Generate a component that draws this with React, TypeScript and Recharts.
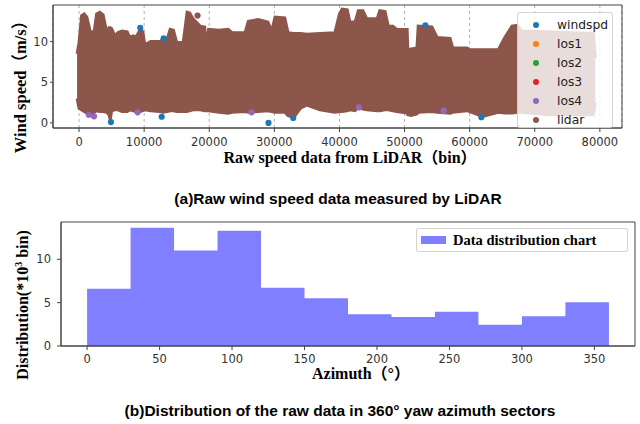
import React from "react";
import {
  ComposedChart,
  Area,
  Scatter,
  XAxis,
  YAxis,
  ZAxis,
  CartesianGrid,
  ReferenceArea,
} from "recharts";

// (a) raw wind speed cloud: envelope
const binPositions = [
  -300, 0, 400, 800, 1200, 1700, 2300, 2700, 3200, 3700, 4250, 4600, 4800, 5000, 5500, 6000, 6600,
  7400, 7800, 8300, 8800, 9400, 9800, 10100, 11000, 12400, 12900, 13500, 14000, 14500, 15000, 16000,
  16600, 17000, 17500, 18600, 19300, 19600, 19900, 21500, 22900, 23500, 25500, 26000, 27500, 29000,
  29600, 30100, 31600, 32100, 33000, 34000, 35000, 37000, 39300, 40000, 40400, 41200, 41600, 42400,
  42900, 43600, 44200, 45800, 46200, 47000, 47500, 48200, 48800, 50400, 50500, 51000, 51900, 52100,
  54200, 55000, 57000, 57400, 59600, 60000, 62000, 64400, 65400, 66500, 67300, 68000, 72000, 76000,
  79000, 79300,
];
const upperSpeed = [
  8.5, 9.9, 13.2, 13.4, 13.0, 11.3, 11.1, 13.4, 13.6, 13.3, 11.1, 11.7, 11.7, 11.6, 10.7, 11.1, 11.3,
  11.2, 10.5, 10.7, 10.6, 11.5, 11.2, 9.6, 10.0, 10.0, 10.3, 10.2, 11.5, 11.4, 9.9, 9.9,
  13.6, 13.5, 12.8, 11.9, 11.8, 9.0, 11.5, 11.4, 11.5, 11.1, 11.1, 12.5, 12.7, 12.4,
  11.3, 13.0, 12.9, 11.1, 11.0, 11.0, 10.9, 11.0, 11.1, 13.4, 14.0, 13.9, 12.4, 12.4,
  13.8, 13.8, 12.8, 12.8, 13.8, 13.7, 11.9, 11.9, 11.5, 11.5, 9.0, 9.1, 9.2, 11.9,
  11.8, 10.5, 10.4, 9.2, 9.2, 9.0, 9.0, 9.0, 10.5, 11.9, 12.0, 11.3, 11.2, 11.1,
  11.0, 8.0,
];
const lowerSpeed = [
  3.0, 1.8, 1.6, 1.4, 1.2, 1.1, 1.3, 1.5, 1.4, 1.4, 1.3, 1.0, 0.4, 1.5, 1.6, 1.6, 1.4,
  1.4, 1.6, 1.5, 1.4, 1.4, 1.5, 1.6, 1.5, 1.4, 1.3, 1.4, 1.5, 1.5, 1.4, 1.4,
  1.4, 1.5, 1.6, 1.6, 1.5, 1.5, 1.5, 1.3, 1.2, 1.3, 1.4, 1.3, 1.4, 1.5,
  1.4, 1.3, 1.3, 0.9, 0.7, 1.8, 2.2, 1.6, 1.3, 1.4, 1.4, 1.5, 1.6, 1.5,
  2.0, 1.7, 1.6, 1.5, 1.5, 1.6, 1.6, 1.5, 1.4, 1.2, 1.0, 0.9, 1.1, 1.3,
  1.4, 1.3, 1.2, 1.3, 1.5, 1.4, 0.8, 1.3, 1.2, 1.2, 1.3, 1.3, 1.0, 1.0,
  1.0, 2.5,
];
const windspdOutliers = [
  { x: 4900, v: 0.1 },
  { x: 12700, v: 0.75 },
  { x: 29100, v: 0.0 },
  { x: 32900, v: 0.6 },
  { x: 61800, v: 0.7 },
  { x: 9400, v: 11.7 },
  { x: 13000, v: 10.4 },
  { x: 53200, v: 12.0 },
];
const los4Edge = [
  { x: 1500, v: 1.0 },
  { x: 2300, v: 0.8 },
  { x: 9000, v: 1.3 },
  { x: 26500, v: 1.3 },
  { x: 43000, v: 1.9 },
  { x: 56000, v: 1.5 },
];
const lidarOutliers = [{ x: 18200, v: 13.2 }];
const speedTicks = [0, 5, 10];
const binTicks = [0, 10000, 20000, 30000, 40000, 50000, 60000, 70000, 80000];
const seriesNames = ["windspd", "los1", "los2", "los3", "los4", "lidar"];
const seriesColors = ["#1f77b4", "#ff7f0e", "#2ca02c", "#d62728", "#9467bd", "#8c564b"];

// (b) histogram of 30 degree yaw sectors
const sectorEdges = [0, 30, 60, 90, 120, 150, 180, 210, 240, 270, 300, 330];
const sectorCounts = [6.6, 13.65, 11.0, 13.3, 6.73, 5.5, 3.65, 3.35, 3.96, 2.46, 3.42, 5.04];
const azimuthTicks = [0, 50, 100, 150, 200, 250, 300, 350];
const countTicks = [0, 5, 10];

const TICK = { fill: "#333", fontSize: 11.5, fontFamily: "DejaVu Sans" };
const SERIF = "'Liberation Serif', 'Noto Sans CJK SC', serif";
const SANS = "'Liberation Sans', Arial, sans-serif";
const BROWN = "#8c564b";

const bandRows = binPositions.map((x, i) => ({ x, band: [lowerSpeed[i], upperSpeed[i]] }));
const histRows = [
  ...sectorEdges.map((x, i) => ({ x, count: sectorCounts[i] })),
  { x: 360, count: sectorCounts[sectorCounts.length - 1] },
];

const abs = (left: number, top: number): React.CSSProperties => ({ position: "absolute", left, top });

export default function App() {
  return (
    <div style={{ position: "fixed", left: 0, top: 0, width: 640, height: 424, background: "#fff", overflow: "hidden" }}>
      {/* (a) */}
      <div style={abs(0, 0)}>
        <ComposedChart width={640} height={185} data={bandRows} margin={{ top: 5, right: 18, bottom: 27, left: 0 }}>
          <CartesianGrid horizontal={false} stroke="#b0b0b0" strokeDasharray="3 3" />
          <XAxis
            dataKey="x"
            type="number"
            domain={[-4000, 83400]}
            ticks={binTicks}
            tick={TICK}
            tickSize={4}
            tickMargin={6}
            stroke="#444"
            height={30}
            allowDataOverflow
          />
          <YAxis
            type="number"
            domain={[-0.63, 14.5]}
            ticks={speedTicks}
            tick={TICK}
            tickSize={3}
            tickMargin={2}
            stroke="#444"
            width={53}
            allowDataOverflow
          />
          <ZAxis range={[30, 30]} />
          <Area
            dataKey="band"
            type="linear"
            fill={BROWN}
            fillOpacity={1}
            stroke={BROWN}
            strokeWidth={3}
            dot={false}
            activeDot={false}
            isAnimationActive={false}
          />
          <Scatter data={los4Edge} dataKey="v" fill={seriesColors[4]} isAnimationActive={false} />
          <Scatter data={windspdOutliers} dataKey="v" fill={seriesColors[0]} isAnimationActive={false} />
          <Scatter data={lidarOutliers} dataKey="v" fill={BROWN} isAnimationActive={false} />
          <ReferenceArea x1={-4000} x2={83400} y1={-0.63} y2={14.5} fill="none" stroke="#444" strokeOpacity={1} />
        </ComposedChart>
      </div>

      {/* legend (a) */}
      <div
        style={{
          ...abs(517, 12),
          width: 96,
          height: 116,
          background: "rgba(255,255,255,0.8)",
          border: "1px solid rgba(200,200,200,0.8)",
          borderRadius: 3,
          boxSizing: "border-box",
        }}
      >
        {seriesNames.map((name, i) => (
          <div key={name} style={{ ...abs(0, 3 + i * 19), width: 96, height: 19 }}>
            <span
              style={{
                ...abs(15, 6),
                width: 6,
                height: 6,
                borderRadius: 3,
                background: seriesColors[i],
              }}
            />
            <span style={{ ...abs(39, 1), fontFamily: "DejaVu Sans", fontSize: 12.3, color: "#222", lineHeight: "16px" }}>
              {name}
            </span>
          </div>
        ))}
      </div>

      <div
        style={{
          ...abs(21 - 80, 83 - 9),
          width: 160,
          height: 18,
          textAlign: "center",
          transform: "rotate(-90deg)",
          fontFamily: SERIF,
          fontWeight: "bold",
          fontSize: 16.5,
          lineHeight: "18px",
          color: "#000",
          whiteSpace: "nowrap",
        }}
      >
        Wind speed（m/s）
      </div>
      <div
        style={{ ...abs(200, 150), width: 300, textAlign: "center", fontFamily: SERIF, fontWeight: "bold", fontSize: 16, lineHeight: "15px", whiteSpace: "nowrap" }}
      >
        Raw speed data from LiDAR（bin）
      </div>
      <div
        style={{ ...abs(100, 189), width: 476, textAlign: "center", fontFamily: SANS, fontWeight: "bold", fontSize: 15.5, lineHeight: "20px", whiteSpace: "nowrap" }}
      >
        (a)Raw wind speed data measured by LiDAR
      </div>

      {/* (b) */}
      <div style={abs(0, 200)}>
        <ComposedChart width={640} height={200} data={histRows} margin={{ top: 22, right: 5, bottom: 24, left: 0 }}>
          <XAxis
            dataKey="x"
            type="number"
            domain={[-18, 378]}
            ticks={azimuthTicks}
            tick={TICK}
            tickSize={4}
            tickMargin={5}
            stroke="#444"
            height={30}
            allowDataOverflow
          />
          <YAxis
            type="number"
            domain={[0, 14.3]}
            ticks={countTicks}
            tick={TICK}
            tickSize={4}
            tickMargin={6}
            stroke="#444"
            width={61}
            allowDataOverflow
          />
          <Area
            dataKey="count"
            type="stepAfter"
            baseValue={0}
            fill="#7f7fff"
            fillOpacity={1}
            stroke="none"
            dot={false}
            activeDot={false}
            isAnimationActive={false}
          />
          <ReferenceArea x1={-18} x2={378} y1={0} y2={14.3} fill="none" stroke="#444" strokeOpacity={1} />
        </ComposedChart>
      </div>

      {/* legend (b) */}
      <div
        style={{
          ...abs(416, 228),
          width: 212,
          height: 24,
          background: "rgba(255,255,255,0.8)",
          border: "1px solid rgba(200,200,200,0.8)",
          borderRadius: 3,
          boxSizing: "border-box",
        }}
      >
        <span style={{ ...abs(4, 7), width: 25, height: 8, background: "#7f7fff" }} />
        <span style={{ ...abs(36, 2), fontFamily: SERIF, fontWeight: "bold", fontSize: 14.5, lineHeight: "18px", whiteSpace: "nowrap" }}>
          Data distribution chart
        </span>
      </div>

      <div
        style={{
          ...abs(23 - 90, 305 - 10),
          width: 180,
          height: 20,
          textAlign: "center",
          transform: "rotate(-90deg)",
          fontFamily: SERIF,
          fontWeight: "bold",
          fontSize: 16,
          lineHeight: "20px",
          whiteSpace: "nowrap",
        }}
      >
        Distribution(*10<sup style={{ fontSize: 10, verticalAlign: "6px", lineHeight: 0 }}>3</sup> bin)
      </div>
      <div
        style={{ ...abs(261, 367), width: 200, textAlign: "center", fontFamily: SERIF, fontWeight: "bold", fontSize: 16, lineHeight: "14px", whiteSpace: "nowrap" }}
      >
        Azimuth（°）
      </div>
      <div
        style={{ ...abs(40, 401), width: 600, textAlign: "center", fontFamily: SANS, fontWeight: "bold", fontSize: 15.5, lineHeight: "20px", whiteSpace: "nowrap" }}
      >
        (b)Distribution of the raw data in 360° yaw azimuth sectors
      </div>
    </div>
  );
}
